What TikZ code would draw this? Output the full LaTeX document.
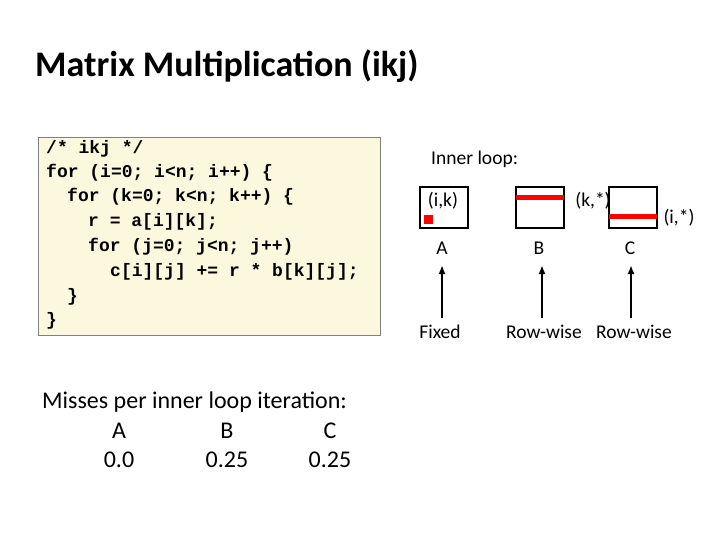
\documentclass[tikz,border=0pt]{standalone}
\usepackage{fontspec}
\setmainfont{Carlito}
\newfontfamily\codefont{Liberation Mono}
\begin{document}
\begin{tikzpicture}[x=1pt,y=-1pt,
  code/.style={anchor=west,inner sep=0pt,font=\codefont\bfseries\fontsize{18}{20}\selectfont},
  txt/.style={inner sep=0pt,font=\fontsize{19.5}{22}\selectfont},
  big/.style={inner sep=0pt,font=\fontsize{24}{27}\selectfont},
  mat/.style={draw=black,line width=2pt},
  bar/.style={red,line width=5pt},
  arr/.style={-{Latex[length=9pt,width=7pt]},line width=2.5pt}]
\usetikzlibrary{arrows.meta}
\useasboundingbox (0,0) rectangle (720,540);
\node[anchor=west,inner sep=0pt,font=\bfseries\fontsize{36}{40}\selectfont] (title) at (35,66) {Matrix Multiplication (ikj)};
\node[draw=gray,line width=1.2pt,fill={rgb,255:red,252;green,248;blue,222},minimum width=342,minimum height=198,anchor=north west,inner sep=0pt] (codebox) at (38,137) {};
\node[code] (l1) at (46,149) {/* ikj */};
\node[code] (l2) at (46,173) {for (i=0; i<n; i++) \{};
\node[code] (l3) at (67,197) {for (k=0; k<n; k++) \{};
\node[code] (l4) at (88,222) {r = a[i][k];};
\node[code] (l5) at (88,247) {for (j=0; j<n; j++)};
\node[code] (l6) at (110,272) {c[i][j] += r * b[k][j];};
\node[code] (l7) at (67,297) {\}};
\node[code] (l8) at (46,321) {\}};
\node[txt,anchor=west] (inner) at (431,159) {Inner loop:};
\draw[mat] (420,187) rectangle (468,228);
\node[txt,anchor=center] (ik) at (443,201) {(i,k)};
\fill[red] (424,215) rectangle (433,224);
\draw[mat] (516,187) rectangle (564,228);
\draw[bar] (516,198) -- (564,198);
\node[txt] (ks) at (593,201) {(k,*)};
\draw[mat] (609,187) rectangle (657,228);
\draw[bar] (609,217) -- (657,217);
\node[txt] (is) at (679,218) {(i,*)};
\node[txt] (A) at (442,248) {A};
\node[txt] (B) at (539,248) {B};
\node[txt] (C) at (630,248) {C};
\node[txt] (fixed) at (440,332) {Fixed};
\node[txt] (rw1) at (544,332) {Row-wise};
\node[txt] (rw2) at (634,332) {Row-wise};
\coordinate (a1) at (442,318); \coordinate (a2) at (442,265);
\coordinate (b1) at (542,318); \coordinate (b2) at (542,265);
\coordinate (c1) at (631,318); \coordinate (c2) at (631,265);
\draw[arr] (a1) -- (a2);
\draw[arr] (b1) -- (b2);
\draw[arr] (c1) -- (c2);
\node[big,anchor=west] (misses) at (42,402) {Misses per inner loop iteration:};
\node[big] (hA) at (119,431) {A};
\node[big] (hB) at (227,431) {B};
\node[big] (hC) at (330,431) {C};
\node[big] (vA) at (119,460) {0.0};
\node[big] (vB) at (227,460) {0.25};
\node[big] (vC) at (330,460) {0.25};
\end{tikzpicture}
\end{document}
